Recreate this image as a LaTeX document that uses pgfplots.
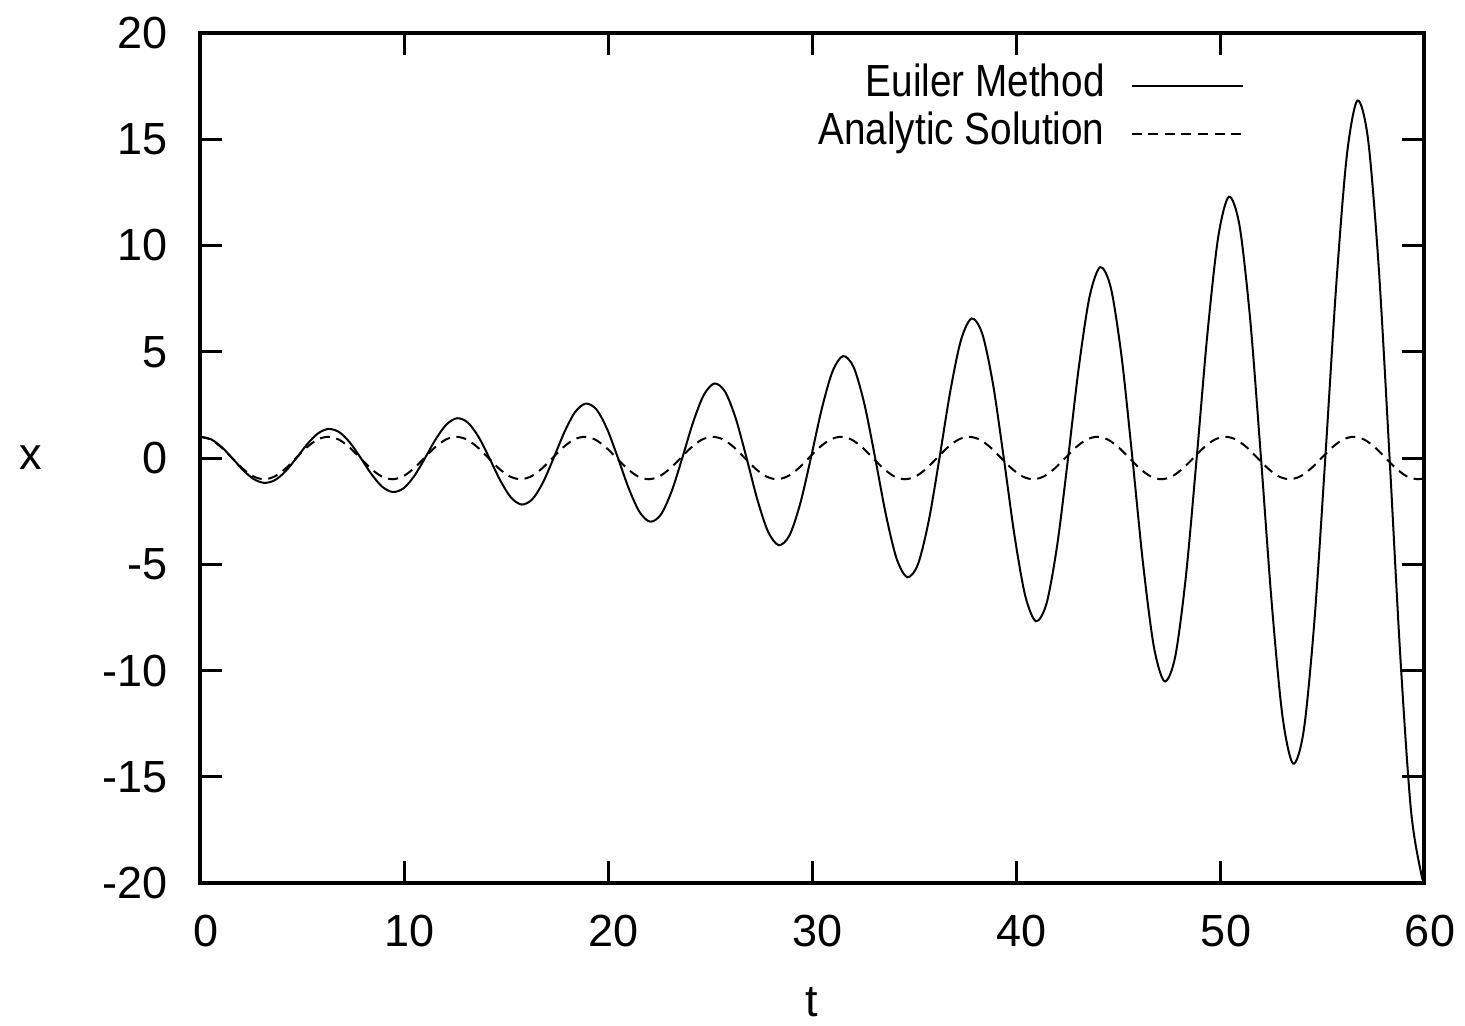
\documentclass[border=0pt]{standalone}
\usepackage{fontspec}
\setmainfont{Liberation Sans}
\newfontfamily\legfont[FakeStretch=0.86]{Liberation Sans}
\usepackage{pgfplots}
\usepackage{pgfplotstable}
\pgfplotsset{compat=1.18}

% Euler method, h = 0.1, x'' = -x, x(0) = 1
\pgfplotstableread{
t x
0.000 1.000
0.525 0.889
1.051 0.527
1.576 0
2.101 -0.555
2.627 -0.987
3.152 -1.170
3.677 -1.040
4.203 -0.616
4.728 0
5.253 0.649
5.779 1.154
6.304 1.368
6.829 1.216
7.355 0.721
7.880 0
8.406 -0.760
8.931 -1.351
9.456 -1.601
9.982 -1.423
10.507 -0.843
11.032 0
11.558 0.889
12.083 1.580
12.608 1.872
13.134 1.665
13.659 0.986
14.184 0
14.710 -1.039
15.235 -1.848
15.760 -2.190
16.286 -1.947
16.811 -1.154
17.336 0
17.862 1.216
18.387 2.162
18.912 2.562
19.438 2.278
19.963 1.350
20.488 0
21.014 -1.422
21.539 -2.529
22.064 -2.997
22.590 -2.665
23.115 -1.579
23.641 0
24.166 1.664
24.691 2.958
25.217 3.506
25.742 3.117
26.267 1.847
26.793 0
27.318 -1.946
27.843 -3.460
28.369 -4.102
28.894 -3.646
29.419 -2.161
29.945 0
30.470 2.277
30.995 4.048
31.521 4.798
32.046 4.265
32.571 2.528
33.097 0
33.622 -2.663
34.147 -4.735
34.673 -5.612
35.198 -4.989
35.723 -2.957
36.249 0
36.774 3.116
37.299 5.539
37.825 6.565
38.350 5.836
38.876 3.459
39.401 0
39.926 -3.644
40.452 -6.480
40.977 -7.680
41.502 -6.827
42.028 -4.046
42.553 0
43.078 4.262
43.604 7.580
44.129 8.984
44.654 7.986
45.180 4.733
45.705 0
46.230 -4.987
46.756 -8.867
47.281 -10.509
47.806 -9.342
48.332 -5.537
48.857 0
49.382 5.834
49.908 10.372
50.433 12.294
50.958 10.928
51.484 6.477
52.009 0
52.535 -6.824
53.060 -12.133
53.585 -14.381
54.111 -12.784
54.636 -7.576
55.161 0
55.687 7.983
56.212 14.193
56.737 16.822
57.263 14.954
57.788 8.863
58.313 0
58.839 -9.338
59.364 -16.602
59.889 -19.679
60.000 -19.670
}\euler

% analytic solution cos(t)
\pgfplotstableread{
t x
0.000 1.000
0.524 0.866
1.047 0.500
1.571 0
2.094 -0.500
2.618 -0.866
3.142 -1.000
3.665 -0.866
4.189 -0.500
4.712 0
5.236 0.500
5.760 0.866
6.283 1.000
6.807 0.866
7.330 0.500
7.854 0
8.378 -0.500
8.901 -0.866
9.425 -1.000
9.948 -0.866
10.472 -0.500
10.996 0
11.519 0.500
12.043 0.866
12.566 1.000
13.090 0.866
13.614 0.500
14.137 0
14.661 -0.500
15.184 -0.866
15.708 -1.000
16.232 -0.866
16.755 -0.500
17.279 0
17.802 0.500
18.326 0.866
18.850 1.000
19.373 0.866
19.897 0.500
20.420 0
20.944 -0.500
21.468 -0.866
21.991 -1.000
22.515 -0.866
23.038 -0.500
23.562 0
24.086 0.500
24.609 0.866
25.133 1.000
25.656 0.866
26.180 0.500
26.704 0
27.227 -0.500
27.751 -0.866
28.274 -1.000
28.798 -0.866
29.322 -0.500
29.845 0
30.369 0.500
30.892 0.866
31.416 1.000
31.940 0.866
32.463 0.500
32.987 0
33.510 -0.500
34.034 -0.866
34.558 -1.000
35.081 -0.866
35.605 -0.500
36.128 0
36.652 0.500
37.176 0.866
37.699 1.000
38.223 0.866
38.746 0.500
39.270 0
39.794 -0.500
40.317 -0.866
40.841 -1.000
41.364 -0.866
41.888 -0.500
42.412 0
42.935 0.500
43.459 0.866
43.982 1.000
44.506 0.866
45.029 0.500
45.553 0
46.077 -0.500
46.600 -0.866
47.124 -1.000
47.648 -0.866
48.171 -0.500
48.695 0
49.218 0.500
49.742 0.866
50.265 1.000
50.789 0.866
51.313 0.500
51.836 0
52.360 -0.500
52.883 -0.866
53.407 -1.000
53.931 -0.866
54.454 -0.500
54.978 0
55.501 0.500
56.025 0.866
56.549 1.000
57.072 0.866
57.596 0.500
58.119 0
58.643 -0.500
59.166 -0.866
59.690 -1.000
60.000 -0.952
}\analytic

\begin{document}
\begin{tikzpicture}
\path[use as bounding box] (-100pt,-71pt) rectangle (632.5pt,441.5pt);
\begin{axis}[
    at={(0,0)}, anchor=south west,
    scale only axis,
    width=612pt, height=425pt,
    xmin=0, xmax=60, ymin=-20, ymax=20,
    xtick={0,10,...,60},
    ytick={-20,-15,...,20},
    tick align=inside,
    major tick length=11pt,
    axis line style={line width=1.6pt},
    every tick/.style={black, line width=1.5pt},
    /pgf/number format/assume math mode=true,
    tick label style={font=\fontsize{22.5}{26}\selectfont, inner sep=0pt},
    xticklabel style={yshift=-16pt, xshift=3pt},
    yticklabel style={xshift=-16pt},
    every axis x label/.style={at={(rel axis cs:0.5,0)}, anchor=base, yshift=-66.5pt, inner sep=0pt},
    every axis y label/.style={at={(rel axis cs:0,0.5)}, anchor=center, xshift=-84.5pt, inner sep=0pt},
    label style={font=\fontsize{22.5}{26}\selectfont},
    xlabel={t}, ylabel={x},
    legend plot pos=right,
    legend cell align=right,
    legend image code/.code={\draw[#1] (0pt,0pt) -- (55.5pt,0pt);},
    legend style={at={(rel axis cs:1,1)}, anchor=north east, xshift=-90pt, yshift=-16.8pt,
        draw=none, fill=none, inner sep=0pt, column sep=13pt, row sep=5pt,
        font=\legfont\fontsize{22.5}{26}\selectfont,
        nodes={inner sep=0pt, text height=14.5pt, text depth=4.5pt}},
]
\addplot[black, line width=1pt, smooth] table[x=t, y=x] {\euler};
\addlegendentry{Euiler Method}
\addplot[black, line width=1pt, smooth, dash pattern=on 5pt off 3.3pt] table[x=t, y=x] {\analytic};
\addlegendentry{Analytic Solution}
\end{axis}
\end{tikzpicture}
\end{document}
